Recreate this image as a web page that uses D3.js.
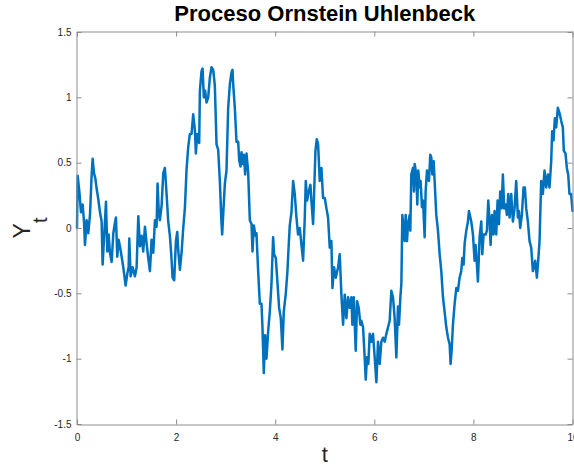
<!DOCTYPE html>
<html><head><meta charset="utf-8">
<script src="https://cdn.jsdelivr.net/npm/d3@7"></script>
<style>body{margin:0;background:#fff}svg{display:block}</style>
</head><body>
<svg id="c" width="574" height="468"></svg>
<script>
const tValues=[0,0.013,0.047,0.081,0.114,0.141,0.161,0.195,0.228,0.262,0.296,0.316,0.343,0.370,0.397,0.430,0.464,0.497,0.517,0.551,0.585,0.612,0.638,0.665,0.699,0.733,0.766,0.786,0.813,0.840,0.867,0.901,0.934,0.981,1.015,1.042,1.055,1.082,1.122,1.169,1.203,1.237,1.270,1.304,1.337,1.371,1.405,1.438,1.472,1.505,1.539,1.573,1.606,1.626,1.653,1.673,1.707,1.741,1.774,1.808,1.841,1.875,1.902,1.929,1.962,1.996,2.023,2.043,2.077,2.110,2.144,2.177,2.211,2.245,2.278,2.312,2.345,2.379,2.399,2.426,2.466,2.480,2.513,2.534,2.560,2.587,2.614,2.648,2.681,2.715,2.749,2.782,2.816,2.849,2.883,2.917,2.930,2.950,2.984,3.017,3.051,3.085,3.118,3.138,3.152,3.185,3.219,3.253,3.273,3.300,3.320,3.340,3.367,3.394,3.421,3.454,3.488,3.522,3.542,3.569,3.602,3.622,3.656,3.690,3.723,3.743,3.770,3.797,3.824,3.858,3.891,3.925,3.958,3.978,4.012,4.039,4.079,4.113,4.146,4.173,4.214,4.247,4.274,4.294,4.328,4.362,4.395,4.429,4.462,4.496,4.530,4.563,4.597,4.617,4.644,4.677,4.711,4.731,4.765,4.785,4.812,4.839,4.866,4.899,4.933,4.966,5.000,5.034,5.067,5.101,5.134,5.155,5.188,5.222,5.269,5.302,5.336,5.370,5.403,5.437,5.470,5.504,5.538,5.558,5.585,5.625,5.652,5.685,5.719,5.739,5.773,5.806,5.827,5.853,5.880,5.907,5.941,5.974,6.008,6.042,6.075,6.109,6.142,6.176,6.210,6.243,6.277,6.310,6.344,6.378,6.411,6.445,6.478,6.499,6.526,6.546,6.566,6.593,6.613,6.633,6.660,6.680,6.714,6.727,6.747,6.781,6.801,6.815,6.848,6.868,6.888,6.915,6.935,6.962,6.983,7.016,7.036,7.063,7.103,7.130,7.151,7.171,7.198,7.224,7.251,7.285,7.319,7.352,7.386,7.419,7.453,7.487,7.520,7.540,7.560,7.587,7.621,7.655,7.688,7.722,7.755,7.776,7.802,7.823,7.856,7.890,7.910,7.957,7.991,8.024,8.044,8.071,8.091,8.125,8.159,8.179,8.206,8.246,8.273,8.300,8.327,8.347,8.374,8.407,8.427,8.461,8.488,8.515,8.542,8.569,8.595,8.622,8.649,8.676,8.703,8.730,8.763,8.797,8.831,8.864,8.898,8.918,8.945,8.978,9.012,9.039,9.066,9.099,9.133,9.167,9.200,9.220,9.247,9.281,9.308,9.335,9.368,9.402,9.435,9.469,9.503,9.536,9.570,9.590,9.617,9.644,9.671,9.704,9.738,9.772,9.805,9.825,9.859,9.886,9.913,9.939,9.973,10.0];
const yValues=[0,0.40,0.28,0.12,0.18,0.05,-0.13,0.06,-0.04,0.10,0.41,0.53,0.42,0.38,0.30,0.22,0.12,0.05,-0.28,-0.04,0.20,-0.18,-0.05,-0.19,-0.26,-0.04,0.04,0.08,-0.22,-0.09,-0.14,-0.22,-0.30,-0.44,-0.35,-0.30,-0.08,-0.37,-0.30,-0.37,-0.30,0.09,-0.14,-0.06,-0.18,0.01,-0.12,-0.23,-0.33,-0.09,-0.19,0.06,0.01,0.34,0.10,0.06,0.17,0.42,0.46,0.26,0.05,-0.06,-0.20,-0.38,-0.40,-0.10,-0.03,-0.17,-0.32,-0.19,0.00,0.15,0.45,0.62,0.72,0.72,0.87,0.75,0.57,0.72,0.65,1.05,1.20,1.22,1.00,1.05,0.96,1.00,1.15,1.23,1.21,1.09,0.64,0.60,0.36,0.03,-0.05,0.10,0.34,0.44,0.92,1.10,1.19,1.21,1.10,0.92,0.66,0.66,0.52,0.47,0.58,0.49,0.56,0.41,0.57,0.43,0.06,0.03,-0.18,0.02,-0.06,-0.04,-0.33,-0.58,-0.58,-0.76,-1.11,-0.82,-1.00,-0.79,-0.64,-0.43,-0.07,-0.20,-0.23,-0.38,-0.61,-0.69,-0.93,-0.64,-0.50,-0.33,-0.12,0.02,0.12,0.36,0.26,0.08,-0.05,0.00,-0.13,-0.25,0.08,0.36,0.21,0.28,0.33,0.21,0.03,0.26,0.59,0.68,0.64,0.36,0.46,0.23,0.23,0.15,0.08,-0.15,-0.10,-0.46,-0.30,-0.38,-0.30,-0.20,-0.51,-0.74,-0.51,-0.69,-0.53,-0.61,-0.53,-0.74,-0.53,-0.94,-0.56,-0.61,-0.74,-0.71,-0.76,-0.99,-1.16,-0.99,-1.04,-0.81,-0.87,-0.81,-0.99,-1.18,-0.87,-1.04,-0.87,-0.84,-0.87,-0.81,-0.76,-0.71,-0.48,-0.53,-0.69,-0.99,-0.60,-0.74,-0.53,-0.43,0.10,-0.02,-0.10,0.10,-0.10,0.03,0.10,-0.02,0.41,0.46,0.28,0.49,0.41,0.18,0.44,0.31,0.36,0.16,0.21,-0.07,0.28,0.44,0.36,0.56,0.54,0.41,0.51,0.31,0.10,-0.02,-0.20,-0.33,-0.53,-0.64,-0.76,-0.84,-0.89,-1.04,-0.94,-0.74,-0.58,-0.46,-0.48,-0.38,-0.33,-0.23,-0.28,-0.12,-0.02,0.05,0.13,0.05,-0.05,-0.25,-0.13,-0.28,-0.41,-0.07,0.05,-0.20,-0.05,-0.05,-0.02,0.21,0.05,-0.13,0.10,-0.05,0.13,-0.05,0.21,0.03,0.28,0.15,0.41,0.15,0.18,0.10,0.26,0.08,0.26,0.05,0.15,0.36,0.08,0.13,0.00,0.10,0.31,0.31,0.15,0.05,-0.10,-0.15,-0.33,-0.30,-0.25,-0.38,-0.25,-0.10,0.36,0.26,0.44,0.31,0.41,0.31,0.51,0.74,0.67,0.84,0.77,0.92,0.88,0.82,0.77,0.59,0.57,0.46,0.41,0.26,0.26,0.13];
const xDomain=[0,10];
const yDomain=[-1.5,1.5];
const xTicks=[0,2,4,6,8,10];
const yTicks=[-1.5,-1,-0.5,0,0.5,1,1.5];
const titleText="Proceso Ornstein Uhlenbeck";
const xLabelText="t";
const yLabelMain="Y";
const yLabelSub="t";

const W=574,H=468;
const m={l:77,r:572.5,t:32,b:424};
const svg=d3.select("#c");
svg.append("rect").attr("width",W).attr("height",H).attr("fill","#fff");
const x=d3.scaleLinear().domain(xDomain).range([m.l,m.r]);
const y=d3.scaleLinear().domain(yDomain).range([m.b,m.t]);
const FONT="'Liberation Sans', Arial, Helvetica, sans-serif";
const axColor="#8c8c8c";
const txtColor="#262626";

const data=tValues.map((t,i)=>[t,yValues[i]]);
svg.append("path").datum(data)
  .attr("d",d3.line().x(d=>x(d[0])).y(d=>y(d[1])))
  .attr("fill","none").attr("stroke","#0072BD").attr("stroke-width",2.5)
  .attr("stroke-linejoin","round").attr("stroke-linecap","round");

function style(g,labels){
  g.select(".domain").attr("stroke",axColor);
  g.selectAll(".tick line").attr("stroke",axColor);
  g.attr("font-family",FONT).attr("font-size",10);
  g.selectAll("text").attr("fill",txtColor);
  if(!labels) g.selectAll("text").remove();
}
const fmt=d=>String(d);
svg.append("g").attr("transform",`translate(0,${m.b+0.5})`)
  .call(d3.axisBottom(x).tickValues(xTicks).tickSizeInner(-5).tickSizeOuter(0).tickPadding(9).tickFormat(fmt))
  .call(g=>style(g,true));
svg.append("g").attr("transform",`translate(0,${m.t-0.5})`)
  .call(d3.axisTop(x).tickValues(xTicks).tickSizeInner(-5).tickSizeOuter(0))
  .call(g=>style(g,false));
svg.append("g").attr("transform",`translate(${m.l-0.5},0)`)
  .call(d3.axisLeft(y).tickValues(yTicks).tickSizeInner(-5).tickSizeOuter(0).tickPadding(5).tickFormat(fmt))
  .call(g=>style(g,true));
svg.append("g").attr("transform",`translate(${m.r},0)`)
  .call(d3.axisRight(y).tickValues(yTicks).tickSizeInner(-5).tickSizeOuter(0))
  .call(g=>style(g,false));

svg.append("text").attr("x",(m.l+m.r)/2).attr("y",21).attr("text-anchor","middle")
  .attr("font-family",FONT).attr("font-weight","bold").attr("font-size",22).attr("fill","#000")
  .text(titleText);
svg.append("text").attr("x",(m.l+m.r)/2).attr("y",462).attr("text-anchor","middle")
  .attr("font-family",FONT).attr("font-size",22).attr("fill",txtColor).text(xLabelText);
const yl=svg.append("text").attr("transform",`translate(30,${(m.t+m.b)/2}) rotate(-90)`)
  .attr("text-anchor","middle").attr("font-family",FONT).attr("fill",txtColor);
yl.append("tspan").attr("font-size",23).text(yLabelMain);
yl.append("tspan").attr("font-size",20).attr("dy",17).text(yLabelSub);
</script>
</body></html>
